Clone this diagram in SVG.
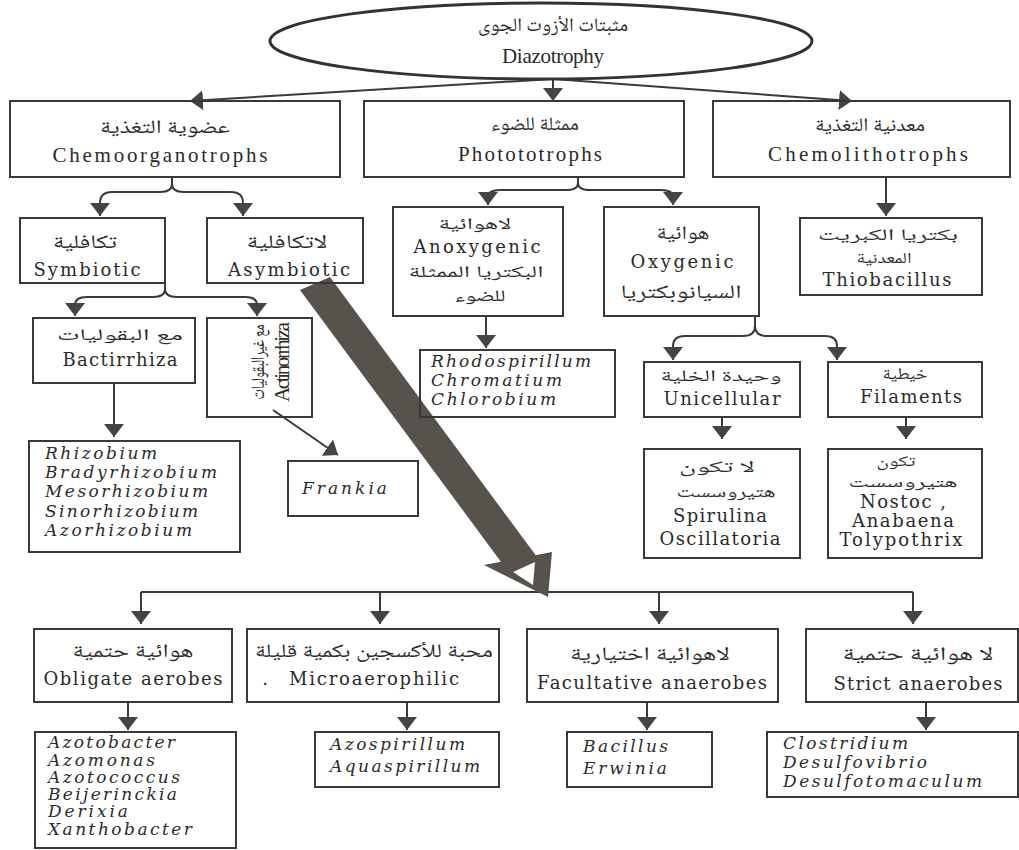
<svg xmlns="http://www.w3.org/2000/svg" width="1019" height="850" viewBox="0 0 1019 850">
<defs>
<marker id="ah" viewBox="0 0 13 20" refX="13" refY="10" markerWidth="13" markerHeight="20" markerUnits="userSpaceOnUse" orient="auto">
<path d="M0,0 L13,10 L0,20 Z" fill="#444"/>
</marker>
<style>
.box{fill:none;stroke:#383838;stroke-width:2}
.ln{fill:none;stroke:#3a3a3a;stroke-width:2}
.arw{fill:none;stroke:#3a3a3a;stroke-width:2;marker-end:url(#ah)}
.tm{font-family:"Liberation Serif","Times New Roman",serif;font-size:21px;fill:#2b2b2b;text-anchor:middle}
.en{font-family:"DejaVu Serif","Liberation Serif",serif;font-size:18px;fill:#2b2b2b;text-anchor:middle}
.it{font-family:"DejaVu Serif","Liberation Serif",serif;font-size:17px;font-style:italic;fill:#2b2b2b}
.ar{font-family:"Noto Naskh Arabic","Noto Sans Arabic","DejaVu Sans",sans-serif;font-size:19px;fill:#2b2b2b;text-anchor:middle}
.sm{font-size:16px}
.xs{font-size:15px}
</style>
</defs>
<rect width="1019" height="850" fill="#fff"/>

<g id="connectors">
<path class="arw" d="M553,79 L190,101"/>
<path class="arw" d="M553,79 L553,101"/>
<path class="arw" d="M553,79 L852,101"/>
<path class="ln" d="M172,177 V184"/>
<path class="arw" d="M172,184 Q172,192 160,192 L112,192 Q100,192 100,203 L100,216"/>
<path class="arw" d="M172,184 Q172,192 184,192 L231,192 Q243,192 243,203 L243,216"/>
<path class="ln" d="M578,177 V183"/>
<path class="arw" d="M578,183 Q578,190 566,190 L500,190 Q488,190 488,197 L488,205"/>
<path class="arw" d="M578,183 Q578,190 590,190 L661,190 Q673,190 673,197 L673,205"/>
<path class="arw" d="M886,177 L886,216"/>
<path class="ln" d="M165,283 V289"/>
<path class="arw" d="M165,289 Q165,297 153,297 L87,297 Q75,297 75,305 L75,316"/>
<path class="arw" d="M165,289 Q165,297 177,297 L245,297 Q257,297 257,305 L257,316"/>
<path class="ln" d="M755,316 V326"/>
<path class="arw" d="M755,326 Q755,336 743,336 L685,336 Q673,336 673,346 L673,360"/>
<path class="arw" d="M755,326 Q755,336 767,336 L825,336 Q837,336 837,346 L837,360"/>
<path class="arw" d="M114,383 L114,437"/>
<path class="arw" d="M273,410 L338,455"/>
<path class="arw" d="M486,316 L486,348"/>
<path class="arw" d="M722,417 L722,439"/>
<path class="arw" d="M906,417 L906,439"/>
<path class="ln" d="M141,592 H913"/>
<path class="arw" d="M141,592 V624"/>
<path class="arw" d="M380,592 V624"/>
<path class="arw" d="M659,592 V624"/>
<path class="arw" d="M913,592 V624"/>
<path class="arw" d="M128,702 V730"/>
<path class="arw" d="M407,702 V730"/>
<path class="arw" d="M647,702 V730"/>
<path class="arw" d="M926,702 V730"/>
<g id="big-arrow" fill="#57524c">
<polygon points="300,290 330,277 537,557 507,570"/>
<polygon points="484,565 552,552 548,597"/>
<polygon points="513,572 535,562 533,585" fill="#fff"/>
</g>
</g>

<g id="n-root">
<ellipse cx="541" cy="41" rx="271" ry="38" fill="none" stroke="#333" stroke-width="3"/>
<text class="ar" x="553" y="31" font-size="21" textLength="150" lengthAdjust="spacingAndGlyphs">مثبتات الأزوت الجوى</text>
<text class="tm" x="553" y="63" font-size="20" textLength="102">Diazotrophy</text>
</g>

<g id="n-chemoorg">
<rect class="box" x="10" y="101" width="330" height="76"/>
<text class="ar" x="165" y="133" font-size="21" textLength="130" lengthAdjust="spacingAndGlyphs">عضوية التغذية</text>
<text class="tm" x="160" y="162" textLength="215">Chemoorganotrophs</text>
</g>
<g id="n-photo">
<rect class="box" x="364" y="101" width="320" height="76"/>
<text class="ar" x="535" y="130" font-size="21" textLength="88" lengthAdjust="spacingAndGlyphs">ممثلة للضوء</text>
<text class="tm" x="530" y="161" textLength="144">Photototrophs</text>
</g>
<g id="n-chemolitho">
<rect class="box" x="713" y="101" width="297" height="76"/>
<text class="ar" x="870" y="131" font-size="21" textLength="110" lengthAdjust="spacingAndGlyphs">معدنية التغذية</text>
<text class="tm" x="868" y="161" textLength="200">Chemolithotrophs</text>
</g>

<g id="n-symbiotic">
<rect class="box" x="20" y="218" width="145" height="65"/>
<text class="ar" x="85" y="248" textLength="64" lengthAdjust="spacingAndGlyphs">تكافلية</text>
<text class="en" x="87" y="276" textLength="107">Symbiotic</text>
</g>
<g id="n-asymbiotic">
<rect class="box" x="207" y="218" width="156" height="65"/>
<text class="ar" x="287" y="248" textLength="81" lengthAdjust="spacingAndGlyphs">لاتكافلية</text>
<text class="en" x="289" y="276" textLength="122">Asymbiotic</text>
</g>
<g id="n-anoxygenic">
<rect class="box" x="393" y="207" width="170" height="109"/>
<text class="ar sm" x="475" y="229" textLength="73" lengthAdjust="spacingAndGlyphs">لاهوائية</text>
<text class="en" x="477" y="253" textLength="127">Anoxygenic</text>
<text class="ar sm" x="476" y="277" textLength="135" lengthAdjust="spacingAndGlyphs">البكتريا الممثلة</text>
<text class="ar sm" x="480" y="301" textLength="51" lengthAdjust="spacingAndGlyphs">للضوء</text>
</g>
<g id="n-oxygenic">
<rect class="box" x="604" y="207" width="155" height="109"/>
<text class="ar" x="683" y="239" textLength="53" lengthAdjust="spacingAndGlyphs">هوائية</text>
<text class="en" x="682" y="268" textLength="103">Oxygenic</text>
<text class="ar" x="681" y="298" textLength="121" lengthAdjust="spacingAndGlyphs">السيانوبكتريا</text>
</g>
<g id="n-thiobacillus">
<rect class="box" x="800" y="218" width="182" height="77"/>
<text class="ar sm" x="888" y="240" textLength="140" lengthAdjust="spacingAndGlyphs">بكتريا الكبريت</text>
<text class="ar xs" x="884" y="263" textLength="55" lengthAdjust="spacingAndGlyphs">المعدنية</text>
<text class="en" x="887" y="286" textLength="129">Thiobacillus</text>
</g>

<g id="n-bactirrhiza">
<rect class="box" x="33" y="318" width="162" height="65"/>
<text class="ar sm" x="120" y="340" textLength="126" lengthAdjust="spacingAndGlyphs">مع البقوليات</text>
<text class="en" x="120" y="366" textLength="115">Bactirrhiza</text>
</g>
<g id="n-actinorrhiza">
<rect class="box" x="207" y="318" width="105" height="99"/>
<text class="ar" transform="translate(264,362) rotate(-90)" x="0" y="0" font-size="15" textLength="75" lengthAdjust="spacingAndGlyphs">مع غيرالبقوليات</text>
<text class="tm" transform="translate(289,362) rotate(-90)" x="0" y="0" font-size="17" textLength="80">Actinorrhiza</text>
</g>
<g id="n-rhodo">
<rect class="box" x="420" y="350" width="195" height="67"/>
<text class="it" x="431" y="367" textLength="160">Rhodospirillum</text>
<text class="it" x="431" y="386" textLength="131">Chromatium</text>
<text class="it" x="431" y="405" textLength="125">Chlorobium</text>
</g>
<g id="n-unicellular">
<rect class="box" x="644" y="362" width="156" height="55"/>
<text class="ar sm" x="721" y="381" textLength="121" lengthAdjust="spacingAndGlyphs">وحيدة الخلية</text>
<text class="en" x="722" y="405" textLength="117">Unicellular</text>
</g>
<g id="n-filaments">
<rect class="box" x="828" y="362" width="154" height="55"/>
<text class="ar sm" x="905" y="379" textLength="45" lengthAdjust="spacingAndGlyphs">خيطية</text>
<text class="en" x="911" y="403" textLength="102">Filaments</text>
</g>

<g id="n-rhizobium">
<rect class="box" x="29" y="441" width="211" height="111"/>
<text class="it" x="45" y="459" textLength="112">Rhizobium</text>
<text class="it" x="45" y="478" textLength="172">Bradyrhizobium</text>
<text class="it" x="45" y="497" textLength="163">Mesorhizobium</text>
<text class="it" x="45" y="517" textLength="153">Sinorhizobium</text>
<text class="it" x="45" y="536" textLength="147">Azorhizobium</text>
</g>
<g id="n-frankia">
<rect class="box" x="288" y="461" width="130" height="55"/>
<text class="it" x="302" y="494" textLength="85">Frankia</text>
</g>
<g id="n-spirulina">
<rect class="box" x="644" y="449" width="156" height="109"/>
<text class="ar sm" x="717" y="472" textLength="76" lengthAdjust="spacingAndGlyphs">لا تكون</text>
<text class="ar sm" x="726" y="497" textLength="99" lengthAdjust="spacingAndGlyphs">هتيروسست</text>
<text class="en" x="720" y="522" textLength="94">Spirulina</text>
<text class="en" x="720" y="545" textLength="121">Oscillatoria</text>
</g>
<g id="n-nostoc">
<rect class="box" x="828" y="449" width="154" height="109"/>
<text class="ar xs" x="896" y="466" textLength="39" lengthAdjust="spacingAndGlyphs">تكون</text>
<text class="ar xs" x="903" y="487" textLength="109" lengthAdjust="spacingAndGlyphs">هتيروسست</text>
<text class="en" x="903" y="508" textLength="86">Nostoc ,</text>
<text class="en" x="903" y="527" textLength="102">Anabaena</text>
<text class="en" x="901" y="546" textLength="123">Tolypothrix</text>
</g>

<g id="n-obligate">
<rect class="box" x="34" y="629" width="198" height="73"/>
<text class="ar" x="133" y="657" textLength="121" lengthAdjust="spacingAndGlyphs">هوائية حتمية</text>
<text class="en" x="133" y="685" textLength="179">Obligate aerobes</text>
</g>
<g id="n-micro">
<rect class="box" x="247" y="629" width="252" height="73"/>
<text class="ar" x="374" y="657" textLength="238" lengthAdjust="spacingAndGlyphs">محبة للأكسجين بكمية قليلة</text>
<text class="en" x="265" y="685">.</text>
<text class="en" x="374" y="685" textLength="170">Microaerophilic</text>
</g>
<g id="n-facultative">
<rect class="box" x="527" y="629" width="251" height="73"/>
<text class="ar" x="650" y="660" textLength="160" lengthAdjust="spacingAndGlyphs">لاهوائية اختيارية</text>
<text class="en" x="652" y="689" textLength="230">Facultative anaerobes</text>
</g>
<g id="n-strict">
<rect class="box" x="806" y="629" width="212" height="73"/>
<text class="ar" x="918" y="660" textLength="151" lengthAdjust="spacingAndGlyphs">لا هوائية حتمية</text>
<text class="en" x="918" y="690" textLength="169">Strict anaerobes</text>
</g>

<g id="n-azotobacter">
<rect class="box" x="35" y="732" width="201" height="116"/>
<text class="it" x="48" y="748" textLength="127">Azotobacter</text>
<text class="it" x="48" y="766" textLength="107">Azomonas</text>
<text class="it" x="48" y="783" textLength="132">Azotococcus</text>
<text class="it" x="48" y="800" textLength="129">Beijerinckia</text>
<text class="it" x="48" y="817" textLength="80">Derixia</text>
<text class="it" x="48" y="835" textLength="144">Xanthobacter</text>
</g>
<g id="n-azospirillum">
<rect class="box" x="315" y="732" width="184" height="55"/>
<text class="it" x="330" y="750" textLength="135">Azospirillum</text>
<text class="it" x="330" y="772" textLength="150">Aquaspirillum</text>
</g>
<g id="n-bacillus">
<rect class="box" x="567" y="732" width="145" height="55"/>
<text class="it" x="583" y="752" textLength="85">Bacillus</text>
<text class="it" x="583" y="774" textLength="84">Erwinia</text>
</g>
<g id="n-clostridium">
<rect class="box" x="767" y="732" width="251" height="65"/>
<text class="it" x="783" y="749" textLength="125">Clostridium</text>
<text class="it" x="783" y="768" textLength="144">Desulfovibrio</text>
<text class="it" x="783" y="787" textLength="199">Desulfotomaculum</text>
</g>
</svg>
